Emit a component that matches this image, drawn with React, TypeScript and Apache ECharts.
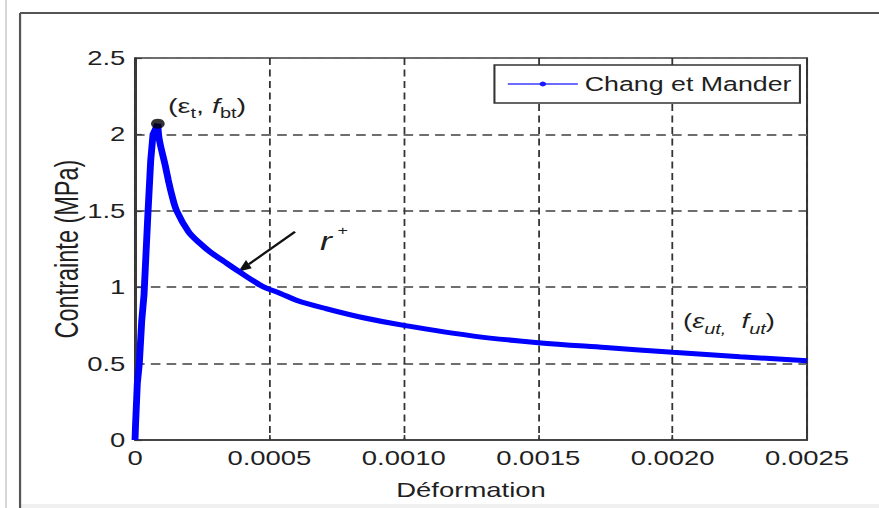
import React, { useEffect, useRef } from "react";
import * as echarts from "echarts";

// Tension branch of the Chang & Mander concrete model
// ascending part (up to the cracking point)
const riseStrain = [0, 0.000002, 0.0000086, 0.000016, 0.000025, 0.0000335, 0.000048, 0.0000584, 0.000067, 0.000085];
const riseStress = [0, 0.1, 0.37, 0.5, 0.78, 0.95, 1.48, 1.83, 2.0, 2.07];
// softening part (r+)
const softStrain = [
  0.000085, 0.00009, 0.000112, 0.000124, 0.000136, 0.000155, 0.0002, 0.00024, 0.00028, 0.00033, 0.00038,
  0.00047, 0.00054, 0.0006, 0.00071, 0.00085, 0.001, 0.00126, 0.0015, 0.00175, 0.002, 0.00225, 0.0025,
];
const softStress = [
  2.07, 1.97, 1.8, 1.7, 1.61, 1.5, 1.36, 1.29, 1.23, 1.17, 1.11,
  1.01, 0.96, 0.915, 0.86, 0.8, 0.75, 0.68, 0.637, 0.605, 0.574, 0.545, 0.519,
];
const peakStrain = 0.000085;
const peakStress = 2.07;

const xTickLabels = ["0", "0.0005", "0.0010", "0.0015", "0.0020", "0.0025"];
const yTickLabels = ["0", "0.5", "1", "1.5", "2", "2.5"];
const seriesName = "Chang et Mander";

const W = 879;
const H = 508;
const BASE_W = 640; // drawing width before the horizontal stretch
const SX = W / BASE_W;

const FONT = '"Liberation Sans", Arial, Helvetica, sans-serif';
const TEXT = "#1f1f1f";

export default function App() {
  const ref = useRef<HTMLDivElement>(null);

  useEffect(() => {
    if (!ref.current) return;
    const chart = echarts.init(ref.current, undefined, { renderer: "svg" });

    const main = { fontSize: 21, fontFamily: FONT, fill: TEXT, verticalAlign: "top", lineHeight: 23 };
    const mainIt = { ...main, fontStyle: "italic" };
    const sub = { fontSize: 14.5, fontFamily: FONT, fill: TEXT, verticalAlign: "top", lineHeight: 14, padding: [10.5, 0, 0, 0] };
    const subIt = { ...sub, fontStyle: "italic" };

    const lineStyle = { color: "#0000ff", width: 5 };

    chart.setOption({
      animation: false,
      backgroundColor: "#ffffff",
      grid: {
        left: 98.3,
        right: 52.4,
        top: 58,
        bottom: 68,
        show: true,
        borderColor: "#3a3a3a",
        borderWidth: 1.5,
        backgroundColor: "transparent",
      },
      legend: {
        data: [seriesName],
        left: 360,
        top: 65,
        padding: [9, 6, 9, 9],
        itemWidth: 51,
        itemHeight: 6,
        borderColor: "#333",
        borderWidth: 1.5,
        borderRadius: 0,
        backgroundColor: "#ffffff",
        lineStyle: { width: 1.5, color: "#3a3aff" },
        itemStyle: { color: "#1a1aff" },
        textStyle: { fontSize: 19.5, color: TEXT, fontFamily: FONT },
      },
      xAxis: {
        type: "value",
        min: 0,
        max: 0.0025,
        interval: 0.0005,
        name: "Déformation",
        nameLocation: "middle",
        nameGap: 40,
        nameMoveOverlap: false,
        nameTextStyle: { fontSize: 20, color: TEXT, fontFamily: FONT },
        axisLine: { show: true, onZero: false, lineStyle: { color: "#3a3a3a", width: 1.5 } },
        axisTick: { show: true, inside: true, length: 5, lineStyle: { color: "#3a3a3a", width: 1.2 } },
        axisLabel: {
          margin: 8,
          fontSize: 20,
          color: TEXT,
          fontFamily: FONT,
          formatter: (v: number) => xTickLabels[Math.round(v / 0.0005)] ?? "",
        },
        splitLine: { show: true, lineStyle: { type: [7, 4.5], color: "#333", width: 1.3 } },
      },
      yAxis: {
        type: "value",
        min: 0,
        max: 2.5,
        interval: 0.5,
        name: "Contrainte (MPa)",
        nameLocation: "middle",
        nameRotate: 90,
        nameGap: 38,
        nameMoveOverlap: false,
        nameTextStyle: { fontSize: 23.5, color: TEXT, fontFamily: FONT },
        axisLine: { show: true, onZero: false, lineStyle: { color: "#3a3a3a", width: 1.5 } },
        axisTick: { show: true, inside: true, length: 5, lineStyle: { color: "#3a3a3a", width: 1.2 } },
        axisLabel: {
          margin: 7,
          fontSize: 20,
          color: TEXT,
          fontFamily: FONT,
          formatter: (v: number) => yTickLabels[Math.round(v / 0.5)] ?? "",
        },
        splitLine: { show: true, lineStyle: { type: [7, 4.5], color: "#6e6e6e", width: 2 } },
      },
      series: [
        {
          type: "line",
          name: seriesName,
          data: riseStrain.map((e, i) => [e, riseStress[i]]),
          showSymbol: false,
          symbol: "circle",
          lineStyle,
          itemStyle: { color: "#0000ff" },
          z: 3,
        },
        {
          type: "line",
          name: seriesName,
          data: softStrain.map((e, i) => [e, softStress[i]]),
          showSymbol: false,
          symbol: "circle",
          smooth: 0.35,
          lineStyle,
          itemStyle: { color: "#0000ff" },
          z: 3,
        },
        {
          type: "scatter",
          name: "peak",
          data: [[peakStrain, peakStress]],
          symbol: "circle",
          symbolSize: 10,
          itemStyle: { color: "#000000" },
          z: 4,
        },
      ],
      graphic: [
        // figure frame
        { type: "line", silent: true, shape: { x1: 4.4, y1: 0, x2: 4.4, y2: H }, style: { stroke: "#c4c4c4", lineWidth: 1 } },
        { type: "rect", silent: true, shape: { x: 14.6, y: 504, width: BASE_W, height: 4 }, style: { fill: "#f0f0f0" } },
        { type: "line", silent: true, shape: { x1: 14.6, y1: 13, x2: 14.6, y2: H }, style: { stroke: "#555", lineWidth: 1.6 } },
        { type: "line", silent: true, shape: { x1: 14.6, y1: 13, x2: BASE_W, y2: 13 }, style: { stroke: "#555", lineWidth: 2 } },
        // peak annotation
        {
          type: "text",
          x: 122.3,
          y: 95,
          style: {
            text: "{m|(ε}{s|t}{m|, }{i|f}{s|bt}{m|)}",
            verticalAlign: "top",
            rich: { m: main, i: mainIt, s: sub },
          },
        },
        // ultimate point annotation
        {
          type: "text",
          x: 497.3,
          y: 311,
          style: {
            text: "{m|(}{i|ε}{si|ut,}{m|  }{i|f}{si|ut}{m|)}",
            verticalAlign: "top",
            rich: { m: { ...main, fontSize: 20 }, i: { ...mainIt, fontSize: 20 }, si: subIt },
          },
        },
        // softening branch label and arrow
        {
          type: "text",
          x: 233,
          y: 224,
          style: {
            text: "{r|r}{p|+}",
            verticalAlign: "top",
            rich: {
              r: { fontSize: 26, fontFamily: FONT, fontStyle: "italic", fill: TEXT, verticalAlign: "bottom", lineHeight: 30 },
              p: { fontSize: 13, fontFamily: FONT, fill: TEXT, verticalAlign: "top", lineHeight: 13, padding: [0, 0, 0, 4] },
            },
          },
        },
        { type: "line", silent: true, shape: { x1: 214.8, y1: 231.7, x2: 181.2, y2: 264.2 }, style: { stroke: "#111", lineWidth: 2 } },
        {
          type: "polygon",
          silent: true,
          shape: { points: [[173.5, 271.7], [183.3, 268.3], [179.1, 260.1]] },
          style: { fill: "#111" },
        },
      ],
    });

    return () => chart.dispose();
  }, []);

  return (
    <div style={{ position: "fixed", left: 0, top: 0, width: W, height: H, overflow: "hidden", background: "#fff" }}>
      <div
        ref={ref}
        style={{ width: BASE_W, height: H, transform: `scaleX(${SX})`, transformOrigin: "0 0" }}
      />
    </div>
  );
}
